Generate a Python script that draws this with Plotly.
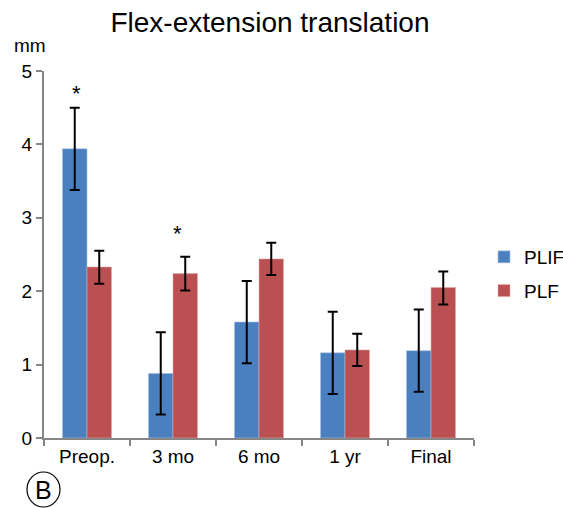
import plotly.graph_objects as go

categories = ["Preop.", "3 mo", "6 mo", "1 yr", "Final"]
plif_values = [3.94, 0.88, 1.58, 1.16, 1.19]
plif_err_plus = [0.56, 0.56, 0.56, 0.56, 0.56]
plif_err_minus = [0.56, 0.56, 0.56, 0.56, 0.56]
plf_values = [2.33, 2.24, 2.44, 1.20, 2.05]
plf_err_plus = [0.22, 0.23, 0.22, 0.22, 0.22]
plf_err_minus = [0.23, 0.23, 0.22, 0.22, 0.23]
y_ticks = [0, 1, 2, 3, 4, 5]

FONT = "Liberation Sans, Arial, sans-serif"
W, H = 563, 508
L, R, T, B = 44, 89, 71, 70
pw, ph = W - L - R, H - T - B

def px_x(px):
    return (px - L) / pw

def px_y(py):
    return (H - B - py) / ph

fig = go.Figure()
fig.add_trace(go.Bar(
    x=categories, y=plif_values, name="PLIF", legendgroup="a",
    marker=dict(color="#4B80C0", line=dict(color="#a9c0e0", width=0.6)),
    error_y=dict(type="data", symmetric=False, array=plif_err_plus,
                 arrayminus=plif_err_minus, color="black", thickness=2, width=5),
))
fig.add_trace(go.Bar(
    x=categories, y=plf_values, name="PLF", legendgroup="b",
    marker=dict(color="#BA5052", line=dict(color="#e0a9a8", width=0.6)),
    error_y=dict(type="data", symmetric=False, array=plf_err_plus,
                 arrayminus=plf_err_minus, color="black", thickness=2, width=5),
))

fig.update_layout(
    width=W, height=H,
    margin=dict(l=L, r=R, t=T, b=B, pad=0, autoexpand=False),
    paper_bgcolor="white", plot_bgcolor="white",
    barmode="group", bargap=0.43, bargroupgap=0,
    font=dict(family=FONT, size=19, color="black"),
    title=dict(text="Flex-extension translation", x=270 / W, xanchor="center",
               y=1 - 22 / H, yanchor="middle", font=dict(size=28, family=FONT)),
    legend=dict(xref="container", yref="container", x=484 / W, y=1 - 238 / H,
                xanchor="left", yanchor="top",
                font=dict(size=19, family=FONT), tracegroupgap=6,
                itemwidth=30, bgcolor="rgba(0,0,0,0)"),
    xaxis=dict(showline=True, linecolor="#868686", linewidth=2,
               ticks="outside", tickson="boundaries", ticklen=6, tickwidth=2,
               tickcolor="#868686", showgrid=False, tickfont=dict(size=19)),
    yaxis=dict(range=[0, 5], tickvals=y_ticks, showline=True, linecolor="#868686",
               linewidth=2, ticks="outside", ticklen=6, tickwidth=2,
               tickcolor="#868686", showgrid=False, zeroline=False,
               tickfont=dict(size=19)),
    annotations=[
        dict(text="mm", xref="paper", yref="paper", x=px_x(30), y=px_y(45),
             xanchor="center", yanchor="middle", showarrow=False,
             font=dict(size=19, family=FONT)),
        dict(text="*", xref="x", yref="y", x=0, y=4.70, xshift=-11,
             xanchor="center", yanchor="middle", showarrow=False,
             font=dict(size=22, family=FONT)),
        dict(text="*", xref="x", yref="y", x=1, y=2.78, xshift=4,
             xanchor="center", yanchor="middle", showarrow=False,
             font=dict(size=22, family=FONT)),
        dict(text="B", xref="paper", yref="paper", x=px_x(43.5), y=px_y(490),
             xanchor="center", yanchor="middle", showarrow=False,
             font=dict(size=25, family=FONT)),
    ],
    shapes=[
        dict(type="circle", xref="paper", yref="paper",
             x0=px_x(27), x1=px_x(60), y0=px_y(507), y1=px_y(472),
             line=dict(color="black", width=1.2)),
    ],
)

fig.write_html("out.html")
